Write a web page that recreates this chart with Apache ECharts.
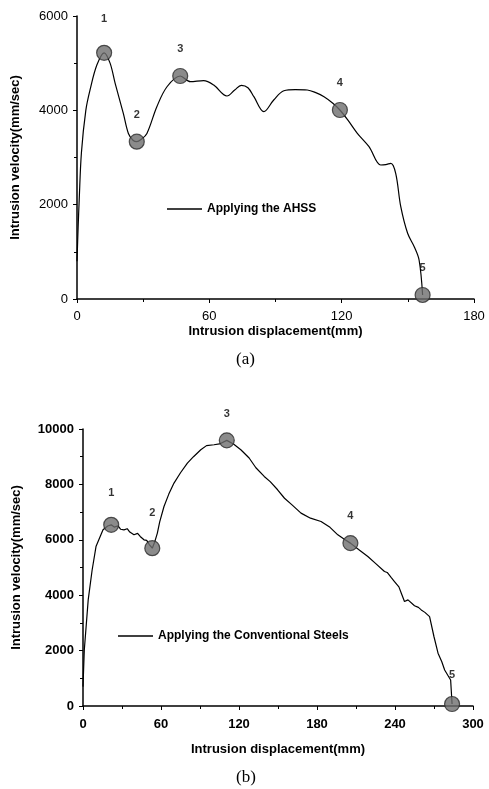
<!DOCTYPE html>
<html>
<head>
<meta charset="utf-8">
<script src="https://cdn.jsdelivr.net/npm/echarts@6/dist/echarts.min.js"></script>
<style>
  html, body { margin: 0; padding: 0; background: #fff; }
  #chart { width: 489px; height: 789px; }
</style>
</head>
<body>
<div id="chart"></div>
<script>
// (a) AHSS curve
const ahssDisp = [0, 0.5, 1, 2, 4, 6, 9, 12.3, 15, 17.3, 21, 23.3, 25.5, 27.1, 29, 31.7, 36.2, 40.8, 46.8, 51.4, 57.4, 62, 68, 71.5, 74.5, 77.5, 80.2, 84.7, 89.2, 93.8, 99, 104.4, 108, 112, 116, 119.2, 123, 127.1, 132.4, 137.7, 140, 142.3, 144.5, 146.8, 149.9, 152.9, 155.1, 156.7];
const ahssVel = [800, 1500, 2100, 3100, 4000, 4450, 4960, 5220, 5000, 4570, 3935, 3510, 3360, 3335, 3380, 3510, 4077, 4500, 4728, 4607, 4630, 4537, 4304, 4430, 4530, 4480, 4289, 3971, 4219, 4416, 4440, 4431, 4380, 4289, 4150, 4007, 3780, 3513, 3229, 2841, 2850, 2877, 2665, 1957, 1393, 1109, 827, 85];
const ahssMarkX = [12.3, 27.1, 46.8, 119.2, 156.7];
const ahssMarkY = [5220, 3335, 4728, 4007, 85];

// (b) conventional steels curve
const convDisp = [0, 1, 4, 7, 10, 15.4, 19, 21.7, 24, 27, 29, 31.5, 34, 36, 39.2, 42, 44, 46.9, 49, 51, 53.3, 55, 57.2, 59, 62.3, 66, 70, 75, 80.3, 85, 90.6, 95, 100.8, 105, 110.6, 116, 121.4, 127.8, 133, 139.4, 144, 149.7, 155, 161, 167.7, 175, 183.1, 190, 196, 201, 205.7, 212, 219.1, 225, 231.9, 234, 237, 239.6, 243, 245, 247.3, 250, 255, 258, 260.2, 263, 266.6, 270, 273.1, 276, 278.2, 282.8, 283.9];
const convVel = [700, 2024, 3830, 4900, 5757, 6360, 6500, 6541, 6460, 6500, 6380, 6360, 6400, 6280, 6180, 6230, 6120, 6000, 5980, 5830, 5698, 5900, 6241, 6650, 7203, 7650, 8048, 8420, 8771, 9000, 9252, 9400, 9432, 9460, 9590, 9450, 9252, 8952, 8600, 8287, 8100, 7806, 7500, 7250, 6964, 6780, 6660, 6450, 6180, 6020, 5880, 5650, 5396, 5150, 4854, 4820, 4640, 4493, 4300, 4050, 3770, 3830, 3620, 3560, 3469, 3380, 3227, 2500, 1905, 1600, 1301, 940, 72];
const convMarkX = [21.7, 53.3, 110.6, 205.7, 283.9];
const convMarkY = [6541, 5698, 9590, 5880, 72];

const markLabels = ['1', '2', '3', '4', '5'];
const xTicksA = [0, 60, 120, 180];
const xTicksB = [0, 60, 120, 180, 240, 300];
const yTicksA = [0, 2000, 4000, 6000];
const yTicksB = [0, 2000, 4000, 6000, 8000, 10000];

// label gaps above markers (layout only)
const ahssLabelGap = [20, 13, 13, 13, 13];
const convLabelGap = [18, 22, 13, 14, 15];

const zip = (xs, ys) => xs.map((x, i) => [x, ys[i]]);
const marks = (xs, ys, gaps) => xs.map((x, i) => ({
  value: [x, ys[i]],
  label: { distance: gaps[i], formatter: markLabels[i] }
}));

const FONT = 'Liberation Sans';
const axisLine = { show: true, lineStyle: { color: '#000', width: 1.5 } };

function xAxisFor(gridIndex, max, ticks, boldTicks, gap, margin) {
  return {
    type: 'value', gridIndex, min: 0, max, interval: 60,
    name: 'Intrusion displacement(mm)', nameLocation: 'middle', nameGap: gap,
    nameTextStyle: { fontFamily: FONT, fontWeight: 'bold', fontSize: 13, color: '#000' },
    axisLine, splitLine: { show: false },
    axisTick: { show: true, length: 4, lineStyle: { color: '#000' } },
    minorTick: { show: true, splitNumber: 2, length: 3, lineStyle: { color: '#000' } },
    axisLabel: {
      margin, color: '#000', fontFamily: FONT, fontSize: 13,
      fontWeight: boldTicks ? 'bold' : 'normal',
      customValues: ticks, formatter: (v) => String(v)
    }
  };
}

function yAxisFor(gridIndex, max, ticks, boldTicks, gap, margin) {
  return {
    type: 'value', gridIndex, min: 0, max, interval: 2000,
    name: 'Intrusion velocity(mm/sec)', nameLocation: 'middle', nameGap: gap,
    nameTextStyle: { fontFamily: FONT, fontWeight: 'bold', fontSize: 13, color: '#000' },
    axisLine, splitLine: { show: false },
    axisTick: { show: true, length: 4, lineStyle: { color: '#000' } },
    minorTick: { show: true, splitNumber: 2, length: 3, lineStyle: { color: '#000' } },
    axisLabel: {
      margin, color: '#000', fontFamily: FONT, fontSize: 13,
      fontWeight: boldTicks ? 'bold' : 'normal',
      customValues: ticks, formatter: (v) => String(v)
    }
  };
}

const markerStyle = {
  color: '#6e6e6e', borderColor: '#2a2a2a', borderWidth: 1.2
};
const markLabel = {
  show: true, position: 'top', color: '#000',
  fontFamily: FONT, fontWeight: 'bold', fontSize: 11
};
const legendText = { fontFamily: FONT, fontWeight: 'bold', fontSize: 12, color: '#000' };

const chart = echarts.init(document.getElementById('chart'), null, { renderer: 'canvas' });
chart.setOption({
  animation: false,
  backgroundColor: '#fff',
  grid: [
    { left: 77, right: 15, top: 16, bottom: 490 },
    { left: 83, right: 16, top: 429, bottom: 83 }
  ],
  legend: [
    {
      data: ['Applying the AHSS'], left: 162, top: 198,
      icon: 'rect', itemWidth: 35, itemHeight: 1.5, itemGap: 4,
      itemStyle: { color: '#000' }, textStyle: legendText
    },
    {
      data: ['Applying the Conventional Steels'], left: 113, top: 625,
      icon: 'rect', itemWidth: 35, itemHeight: 1.5, itemGap: 4,
      itemStyle: { color: '#000' }, textStyle: legendText
    }
  ],
  xAxis: [
    xAxisFor(0, 180, xTicksA, false, 26, 11),
    xAxisFor(1, 300, xTicksB, true, 37, 12)
  ],
  yAxis: [
    yAxisFor(0, 6000, yTicksA, false, 55, 9),
    yAxisFor(1, 10000, yTicksB, true, 60, 9)
  ],
  series: [
    {
      name: 'Applying the AHSS', type: 'line', xAxisIndex: 0, yAxisIndex: 0,
      data: zip(ahssDisp, ahssVel), smooth: 0.35, showSymbol: false,
      lineStyle: { color: '#000', width: 1.2 }, itemStyle: { color: '#000' }
    },
    {
      type: 'scatter', xAxisIndex: 0, yAxisIndex: 0, symbolSize: 15,
      data: marks(ahssMarkX, ahssMarkY, ahssLabelGap),
      itemStyle: markerStyle, label: markLabel, z: 3
    },
    {
      name: 'Applying the Conventional Steels', type: 'line', xAxisIndex: 1, yAxisIndex: 1,
      data: zip(convDisp, convVel), showSymbol: false,
      lineStyle: { color: '#000', width: 1.2 }, itemStyle: { color: '#000' }
    },
    {
      type: 'scatter', xAxisIndex: 1, yAxisIndex: 1, symbolSize: 15,
      data: marks(convMarkX, convMarkY, convLabelGap),
      itemStyle: markerStyle, label: markLabel, z: 3
    }
  ],
  graphic: [
    {
      type: 'text', left: 236, top: 351,
      style: { text: '(a)', fontFamily: 'Liberation Serif', fontSize: 17, fill: '#000' }
    },
    {
      type: 'text', left: 236, top: 769,
      style: { text: '(b)', fontFamily: 'Liberation Serif', fontSize: 17, fill: '#000' }
    }
  ]
});
</script>
</body>
</html>
